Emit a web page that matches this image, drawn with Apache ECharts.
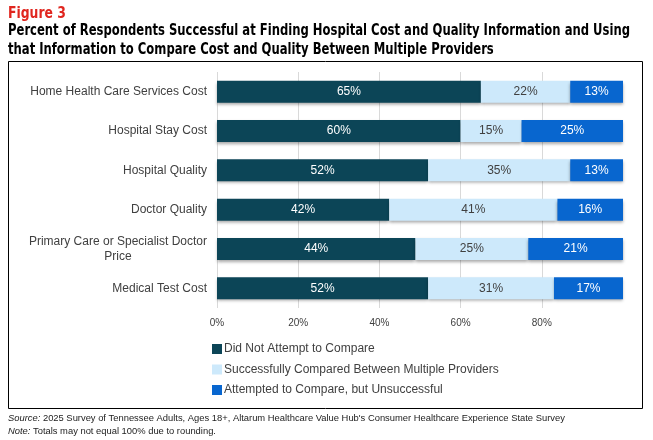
<!DOCTYPE html>
<html>
<head>
<meta charset="utf-8">
<script src="https://cdn.jsdelivr.net/npm/echarts@6/dist/echarts.min.js"></script>
<style>
  html, body { margin: 0; padding: 0; background: #fff; }
  #chart { width: 653px; height: 440px; }
</style>
</head>
<body>
<div id="chart"></div>
<script>
// categories, top to bottom
let categories = [
    'Home Health Care Services Cost',
    'Hospital Stay Cost',
    'Hospital Quality',
    'Doctor Quality',
    'Primary Care or Specialist Doctor\nPrice',
    'Medical Test Cost'
];
// survey percentages as printed on the bars
let notAttempted = [65, 60, 52, 42, 44, 52];
let successful   = [22, 15, 35, 41, 25, 31];
let unsuccessful = [13, 25, 13, 16, 21, 17];
let seriesNames = [
    'Did Not Attempt to Compare',
    'Successfully Compared Between Multiple Providers',
    'Attempted to Compare, but Unsuccessful'
];
let colors = ['#0c4557', '#cde9fb', '#0866cf'];
let labelColors = ['#ffffff', '#404040', '#ffffff'];

let font = '"Liberation Sans", Arial, sans-serif';
let narrow = '"Liberation Sans Narrow", "DejaVu Sans Condensed", "Liberation Sans", sans-serif';

// the chart is a 100% stack: each row is scaled to its own total
let raw = [notAttempted, successful, unsuccessful];
let rowTotal = categories.map((c, i) => raw.reduce((s, arr) => s + arr[i], 0));

let series = raw.map((arr, k) => ({
    name: seriesNames[k],
    type: 'bar',
    stack: 'all',
    barWidth: 22,
    data: arr.map((v, i) => ({ value: v / rowTotal[i] * 100, raw: v })),
    itemStyle: {
        color: colors[k],
        shadowColor: 'rgba(0,0,0,0.35)',
        shadowBlur: 3,
        shadowOffsetY: 2
    },
    label: {
        show: true,
        position: 'inside',
        color: labelColors[k],
        fontFamily: font,
        fontSize: 12,
        formatter: p => p.data.raw + '%'
    }
}));

// title lines, drawn a bit condensed like the original
let titleText = (text, y, color, size) => ({
    type: 'text',
    x: 8, y: y,
    scaleX: 0.86, originX: 0, originY: 0,
    silent: true,
    style: {
        text: text, fill: color,
        font: 'bold ' + size + 'px ' + narrow,
        textAlign: 'left', textVerticalAlign: 'middle'
    }
});

let chart = echarts.init(document.getElementById('chart'));
chart.setOption({
    animation: false,
    graphic: [
        titleText('Figure 3', 14, '#e0261f', 16),
        titleText('Percent of Respondents Successful at Finding Hospital Cost and Quality Information and Using', 31, '#000', 15),
        titleText('that Information to Compare Cost and Quality Between Multiple Providers', 50, '#000', 15),
    {
        type: 'rect',
        shape: { x: 8.5, y: 61.5, width: 634, height: 347 },
        style: { fill: null, stroke: '#000', lineWidth: 1 },
        silent: true
    }, {
        type: 'text',
        left: 8, top: 412,
        style: {
            text: '{i|Source:} 2025 Survey of Tennessee Adults, Ages 18+, Altarum Healthcare Value Hub\'s Consumer Healthcare Experience State Survey\n{i|Note:} Totals may not equal 100% due to rounding.',
            fontFamily: font, fontSize: 9.4, lineHeight: 13, fill: '#222',
            rich: { i: { fontStyle: 'italic', fontFamily: font, fontSize: 9.4, fill: '#222' } }
        }
    }],
    legend: {
        orient: 'vertical',
        left: 207, top: 338,
        itemWidth: 10, itemHeight: 10, itemGap: 8.5,
        icon: 'rect',
        data: seriesNames,
        textStyle: { color: '#404040', fontFamily: font, fontSize: 12, padding: [0, 0, 0, -3] }
    },
    grid: { left: 217, right: 30, top: 72, height: 236, containLabel: false },
    xAxis: {
        type: 'value',
        min: 0, max: 100, interval: 20,
        axisLine: { show: false },
        axisTick: { show: false },
        axisLabel: {
            margin: 10, color: '#404040', fontFamily: font, fontSize: 10,
            showMaxLabel: false,
            formatter: '{value}%'
        },
        splitLine: { show: true, showMaxLine: false, lineStyle: { color: '#d9d9d9', width: 1 } }
    },
    yAxis: {
        type: 'category',
        inverse: true,
        data: categories,
        axisLine: { show: false },
        axisTick: { show: false },
        axisLabel: {
            margin: 10, color: '#404040', fontFamily: font, fontSize: 12, lineHeight: 15,
            formatter: v => '{c|' + v + '}',
            rich: { c: { align: 'center', color: '#404040', fontFamily: font, fontSize: 12, lineHeight: 15 } }
        }
    },
    series: series
});
</script>
</body>
</html>
